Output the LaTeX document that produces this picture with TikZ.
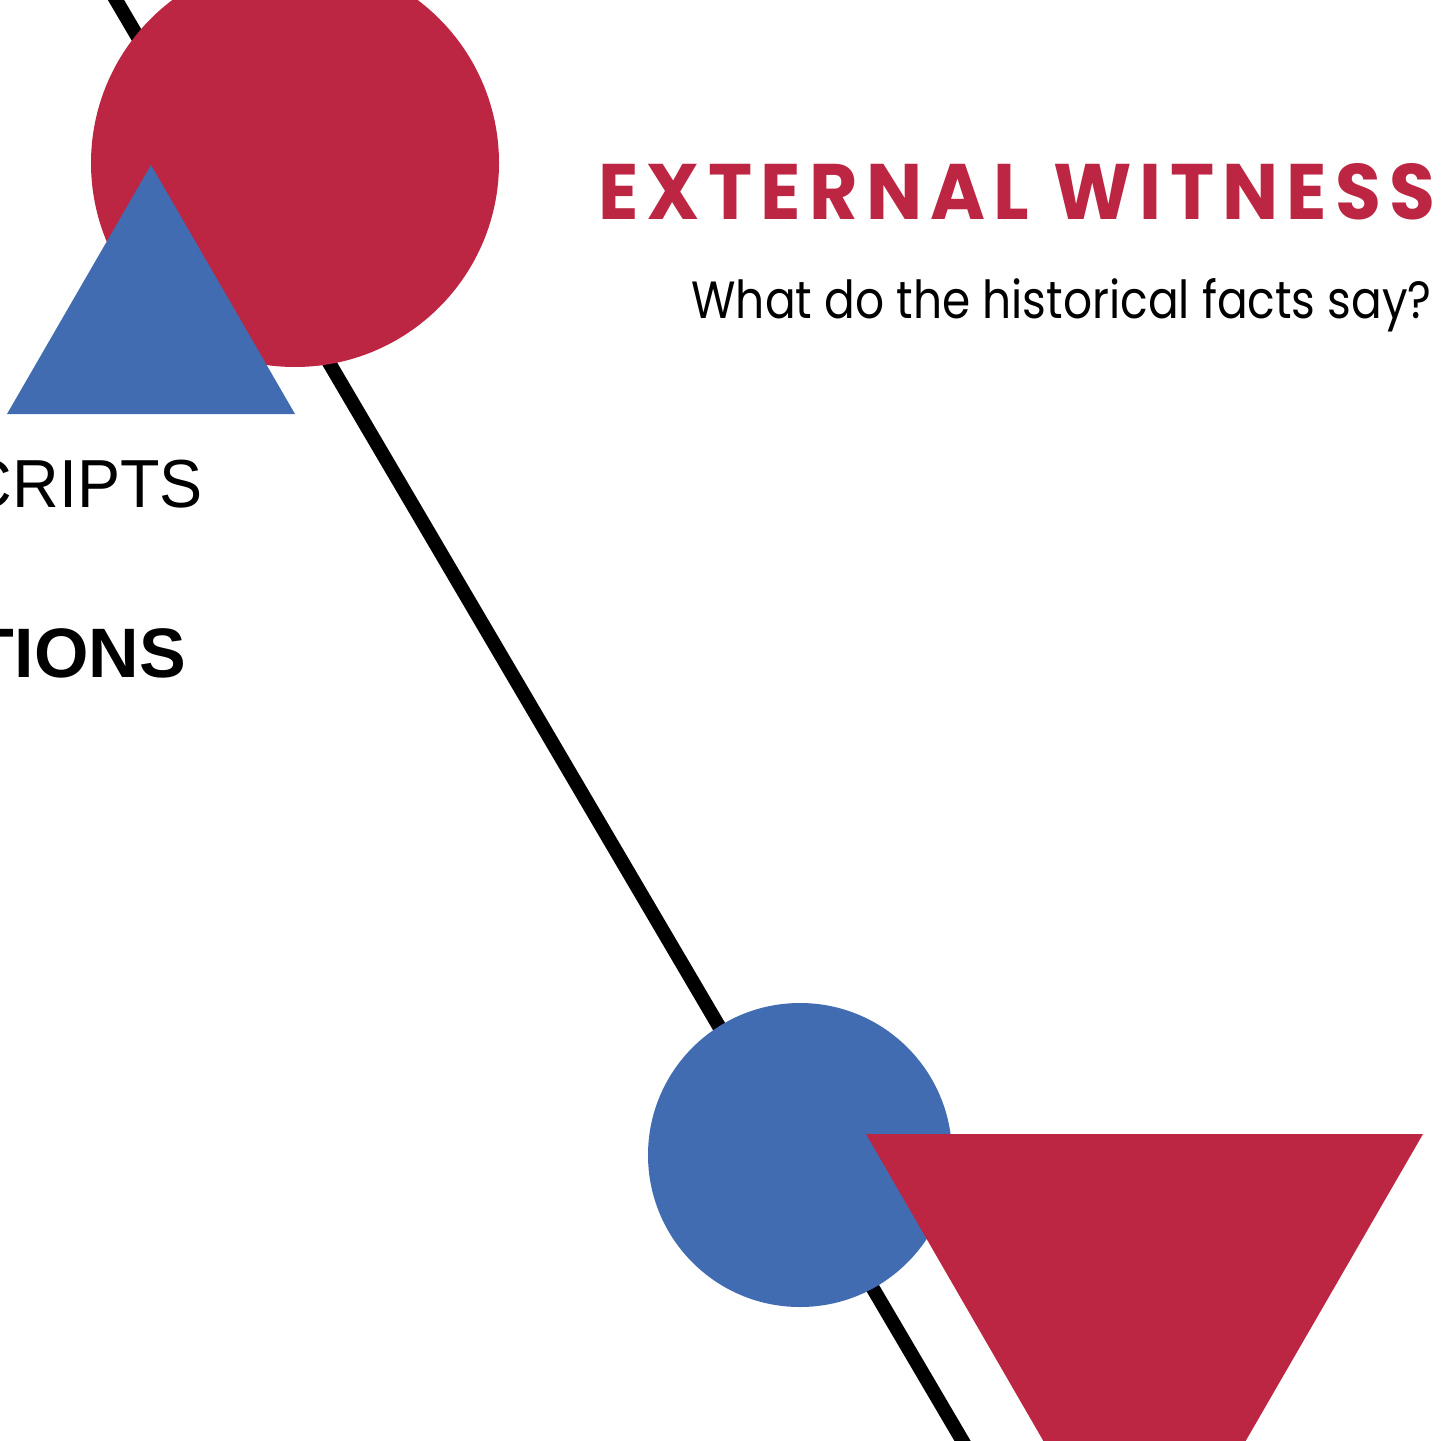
\documentclass[tikz,border=0pt]{standalone}
\usepackage{graphicx}
\usepackage{fontspec}
\setmainfont{Liberation Sans}
\newfontfamily\headfont{Poppins}[LetterSpace=11]
\newfontfamily\subfont{Poppins}
\definecolor{witnessred}{RGB}{188,38,66}
\definecolor{witnessblue}{RGB}{65,108,178}
\tikzset{
	redshape/.style={fill=witnessred},
	blueshape/.style={fill=witnessblue},
	sidelabel/.style={inner sep=0pt, anchor=base east}
}

\begin{document}
\begin{tikzpicture}[x=1pt,y=-1pt]
		\useasboundingbox (0,0) rectangle (1445,1440);
		\clip (0,0) rectangle (1445,1440);
		\coordinate (linetop) at (104.25,-20);
		\coordinate (linebot) at (973.75,1460);
		\draw[line width=14pt] (linetop) -- (linebot);
		\fill[redshape] (295,163) circle (204pt);
		\fill[blueshape] (151,165) -- (295,414) -- (7,414) -- cycle;
		\fill[blueshape] (800,1155) circle (152pt);
		\fill[redshape] (866,1134) -- (1423,1134) -- (1144.5,1616) -- cycle;
		\node[sidelabel, font=\fontsize{68}{80}\selectfont] (scripts) at (203,507) {\scalebox{0.95}[1]{CRIPTS}};
		\node[sidelabel, font=\fontsize{70}{82}\selectfont\bfseries] (tions) at (186,677) {TIONS};
		\node[inner sep=0pt, anchor=base west, text=witnessred] (title) at (598,219) {\resizebox{837pt}{56pt}{\headfont\bfseries EXTERNAL WITNESS}};
		\node[inner sep=0pt, anchor=base east] (question) at (1432,318) {\resizebox{740pt}{40pt}{\subfont What do the historical facts say?}};
	\end{tikzpicture}
\end{document}
